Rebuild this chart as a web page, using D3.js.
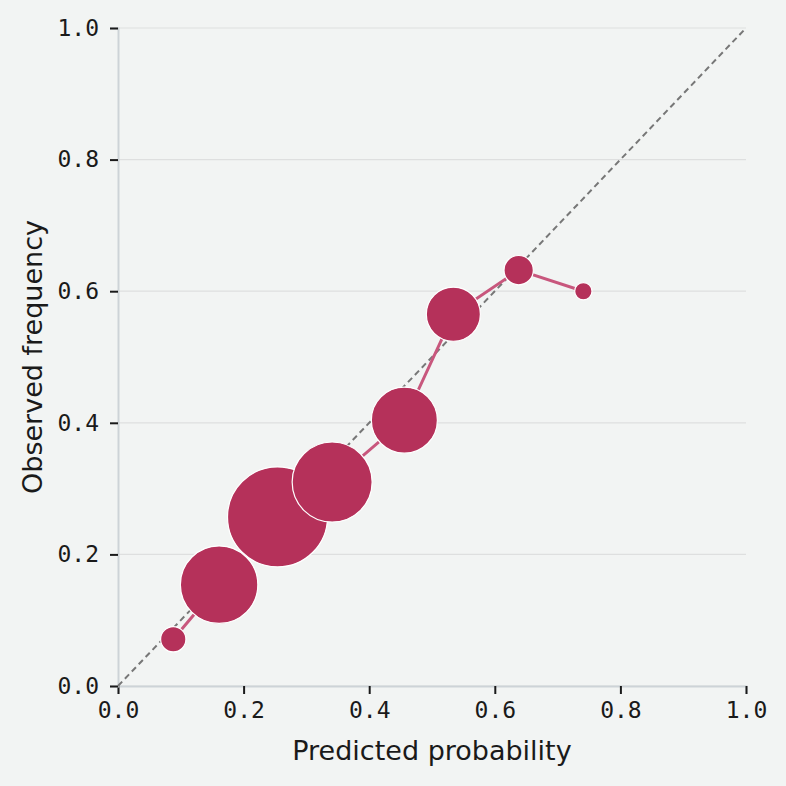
<!DOCTYPE html>
<html>
<head>
<meta charset="utf-8">
<script src="https://cdn.jsdelivr.net/npm/d3@7"></script>
<style>
  html, body { margin: 0; padding: 0; background: #f2f4f3; }
  svg { display: block; }
</style>
</head>
<body>
<svg id="chart" width="786" height="786"></svg>
<script>
// Calibration bins
const predicted = [0.088, 0.161, 0.254, 0.341, 0.456, 0.534, 0.638, 0.741];
const observed  = [0.071, 0.154, 0.257, 0.310, 0.404, 0.565, 0.632, 0.600];
const binCounts = [64, 600, 1000, 640, 436, 292, 86, 30];
const tickValues = [0, 0.2, 0.4, 0.6, 0.8, 1.0];

const width = 786, height = 786;
const margin = { top: 28, right: 40, bottom: 100, left: 118 };

const svg = d3.select("#chart");

const x = d3.scaleLinear().domain([0, 1]).range([margin.left, width - margin.right]);
const y = d3.scaleLinear().domain([0, 1]).range([height - margin.bottom, margin.top]);
const r = d3.scaleSqrt().domain([0, d3.max(binCounts)]).range([0, 50]);

const bins = predicted.map((p, i) => ({ p, o: observed[i], n: binCounts[i] }));

// Horizontal gridlines
svg.append("g")
  .selectAll("line")
  .data(tickValues)
  .join("line")
  .attr("x1", x(0))
  .attr("x2", x(1))
  .attr("y1", d => y(d))
  .attr("y2", d => y(d))
  .attr("stroke", "#dedfdf")
  .attr("stroke-width", 1.2);

// Axes
const xAxis = svg.append("g")
  .attr("transform", `translate(0,${y(0)})`)
  .call(d3.axisBottom(x).tickValues(tickValues).tickFormat(d3.format(".1f")).tickSize(8).tickPadding(4));

const yAxis = svg.append("g")
  .attr("transform", `translate(${x(0)},0)`)
  .call(d3.axisLeft(y).tickValues(tickValues).tickFormat(d3.format(".1f")).tickSize(8).tickPadding(11));

[xAxis, yAxis].forEach(g => {
  g.select(".domain").attr("stroke", "#cdd3d7").attr("stroke-width", 2);
  g.selectAll(".tick line").attr("stroke", "#1a1a1a").attr("stroke-width", 2);
  g.selectAll(".tick text")
    .attr("fill", "#1a1a1a")
    .style("font-family", "'DejaVu Sans Mono', monospace")
    .style("font-size", "23px");
});
xAxis.selectAll(".tick text").attr("dy", "0.85em");

// Perfect calibration diagonal
svg.append("line")
  .attr("x1", x(0)).attr("y1", y(0))
  .attr("x2", x(1)).attr("y2", y(1))
  .attr("stroke", "#777777")
  .attr("stroke-width", 2)
  .attr("stroke-dasharray", "6,4");

// Connecting line
svg.append("path")
  .datum(bins)
  .attr("fill", "none")
  .attr("stroke", "#c8577d")
  .attr("stroke-width", 3)
  .attr("d", d3.line().x(d => x(d.p)).y(d => y(d.o)));

// Bin circles
svg.append("g")
  .selectAll("circle")
  .data(bins)
  .join("circle")
  .attr("cx", d => x(d.p))
  .attr("cy", d => y(d.o))
  .attr("r", d => r(d.n))
  .attr("fill", "#b5315a")
  .attr("stroke", "#ffffff")
  .attr("stroke-width", 1.2);

// Axis titles
svg.append("text")
  .attr("x", (x(0) + x(1)) / 2)
  .attr("y", 760)
  .attr("text-anchor", "middle")
  .attr("fill", "#1a1a1a")
  .style("font-family", "'DejaVu Sans', sans-serif")
  .style("font-size", "27px")
  .text("Predicted probability");

svg.append("text")
  .attr("transform", `translate(42,${(y(0) + y(1)) / 2}) rotate(-90)`)
  .attr("text-anchor", "middle")
  .attr("fill", "#1a1a1a")
  .style("font-family", "'DejaVu Sans', sans-serif")
  .style("font-size", "27px")
  .text("Observed frequency");
</script>
</body>
</html>
